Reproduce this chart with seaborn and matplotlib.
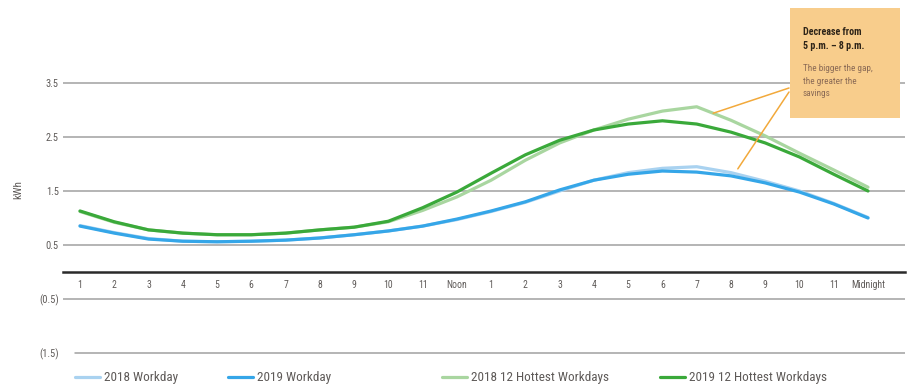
import matplotlib
matplotlib.use("Agg")
import matplotlib.pyplot as plt
from matplotlib.patches import Rectangle
from matplotlib.lines import Line2D
from matplotlib import font_manager
import numpy as np
import pandas as pd
import seaborn as sns

# Hourly labels along the x axis
hours = ["1", "2", "3", "4", "5", "6", "7", "8", "9", "10", "11", "Noon",
         "1", "2", "3", "4", "5", "6", "7", "8", "9", "10", "11", "Midnight"]

# Average household load, kWh per hour
workday_2018 = [0.86, 0.73, 0.62, 0.57, 0.56, 0.57, 0.59, 0.63, 0.69, 0.76, 0.85, 0.97,
                1.12, 1.29, 1.50, 1.70, 1.84, 1.92, 1.95, 1.84, 1.68, 1.50, 1.27, 1.01]
workday_2019 = [0.85, 0.72, 0.61, 0.57, 0.56, 0.57, 0.59, 0.63, 0.69, 0.76, 0.85, 0.98,
                1.13, 1.30, 1.52, 1.70, 1.81, 1.87, 1.85, 1.78, 1.65, 1.48, 1.26, 1.00]
hottest_2018 = [1.12, 0.92, 0.78, 0.72, 0.69, 0.69, 0.72, 0.78, 0.83, 0.93, 1.14, 1.39,
                1.70, 2.07, 2.39, 2.63, 2.83, 2.98, 3.06, 2.81, 2.52, 2.20, 1.89, 1.57]
hottest_2019 = [1.13, 0.93, 0.78, 0.72, 0.69, 0.69, 0.72, 0.78, 0.83, 0.94, 1.19, 1.48,
                1.83, 2.17, 2.44, 2.63, 2.74, 2.80, 2.74, 2.59, 2.39, 2.13, 1.81, 1.50]

series_names = ["2018 Workday", "2019 Workday", "2018 12 Hottest Workdays", "2019 12 Hottest Workdays"]
series_colors = ["#a9d2f0", "#35a6e8", "#a9d6a0", "#3aa93a"]

# Gridline values and their labels
y_ticks = [-1.5, -0.5, 0.5, 1.5, 2.5, 3.5]
y_tick_labels = ["(1.5)", "(0.5)", "0.5", "1.5", "2.5", "3.5"]

frames = []
for name, vals in zip(series_names, [workday_2018, workday_2019, hottest_2018, hottest_2019]):
    frames.append(pd.DataFrame({"hour": np.arange(len(hours)), "kwh": vals, "series": name}))
df = pd.concat(frames, ignore_index=True)

sns.set_style("white")
available = {f.name for f in font_manager.fontManager.ttflist}
family = [f for f in ["Roboto Condensed", "Liberation Sans Narrow", "Open Sans Condensed"]
          if f in available]
plt.rcParams["font.family"] = family + ["DejaVu Sans"]
if not family:
    plt.rcParams["font.stretch"] = "condensed"

W, H = 915, 390
fig = plt.figure(figsize=(W / 100, H / 100), dpi=100)
ax = fig.add_axes([63 / W, 25 / H, (905 - 63) / W, (365 - 25) / H])

text_col = "#5e5a58"
grid_col = "#a0a0a0"

for v in y_ticks:
    start = 12 / 842 if v == -1.5 else 0
    ax.axhline(v, xmin=start, xmax=1, color=grid_col, lw=1.1, zorder=0)

sns.lineplot(data=df, x="hour", y="kwh", hue="series", hue_order=series_names,
             palette=series_colors, linewidth=2.3, legend=False, ax=ax, zorder=3)

px = (868 - 80) / 23
ax.set_xlim(-(80 - 63) / px, 23 + (905 - 868) / px)
scale = 54.0
ax.set_ylim((272 - 365) / scale, (272 - 25) / scale)

for s in ["top", "right", "left"]:
    ax.spines[s].set_visible(False)
ax.spines["bottom"].set_position(("data", 0))
ax.spines["bottom"].set_color("#2a2a2a")
ax.spines["bottom"].set_linewidth(1.8)
ax.spines["bottom"].set_zorder(4)

ax.set_xticks(np.arange(len(hours)))
ax.set_xticklabels(hours, fontsize=7, color=text_col)
ax.tick_params(axis="x", length=0, pad=6)
ax.set_yticks(y_ticks)
ax.set_yticklabels(y_tick_labels, fontsize=7.5, color=text_col)
ax.tick_params(axis="y", length=0, pad=3)
ax.set_xlabel("")
ax.set_ylabel("")

fig.text(18 / W, 1 - 190 / H, "kWh", rotation=90, fontsize=8, color=text_col,
         ha="center", va="center")

# Legend along the bottom, one entry per slot
legend_x = [75, 228, 442, 660]
for name, color, x0 in zip(series_names, series_colors, legend_x):
    handle = Line2D([], [], color=color, lw=2.3)
    fig.legend(handles=[handle], labels=[name], loc="center left", frameon=False,
               bbox_to_anchor=(x0 / W, 1 - 378 / H), borderaxespad=0, borderpad=0,
               fontsize=9.5, handlelength=1.9, handletextpad=0.3, labelcolor=text_col)

# Callout box
bx0, by0, bx1, by1 = 790, 8, 900, 118
fig.patches.append(Rectangle((bx0 / W, 1 - by1 / H), (bx1 - bx0) / W, (by1 - by0) / H,
                             transform=fig.transFigure, facecolor="#f8cd8c",
                             edgecolor="none", zorder=5))
fig.text(803 / W, 1 - 27 / H, "Decrease from\n5 p.m. – 8 p.m.", fontsize=7.2,
         fontweight="bold", color="#2e2418", va="top", ha="left", linespacing=1.45, zorder=6)
fig.text(803 / W, 1 - 64 / H, "The bigger the gap,\nthe greater the\nsavings", fontsize=6.6,
         color="#8a6a55", va="top", ha="left", linespacing=1.5, zorder=6)

leader = dict(arrowstyle="-", color="#f2a93b", lw=1.1, shrinkA=0, shrinkB=0)
ax.annotate("", xy=(18.48, 2.94), xytext=(789, H - 88),
            textcoords="figure pixels", arrowprops=leader, zorder=5)
ax.annotate("", xy=(19.2, 1.91), xytext=(789, H - 92),
            textcoords="figure pixels", arrowprops=leader, zorder=5)

fig.savefig("out.png", dpi=100)
